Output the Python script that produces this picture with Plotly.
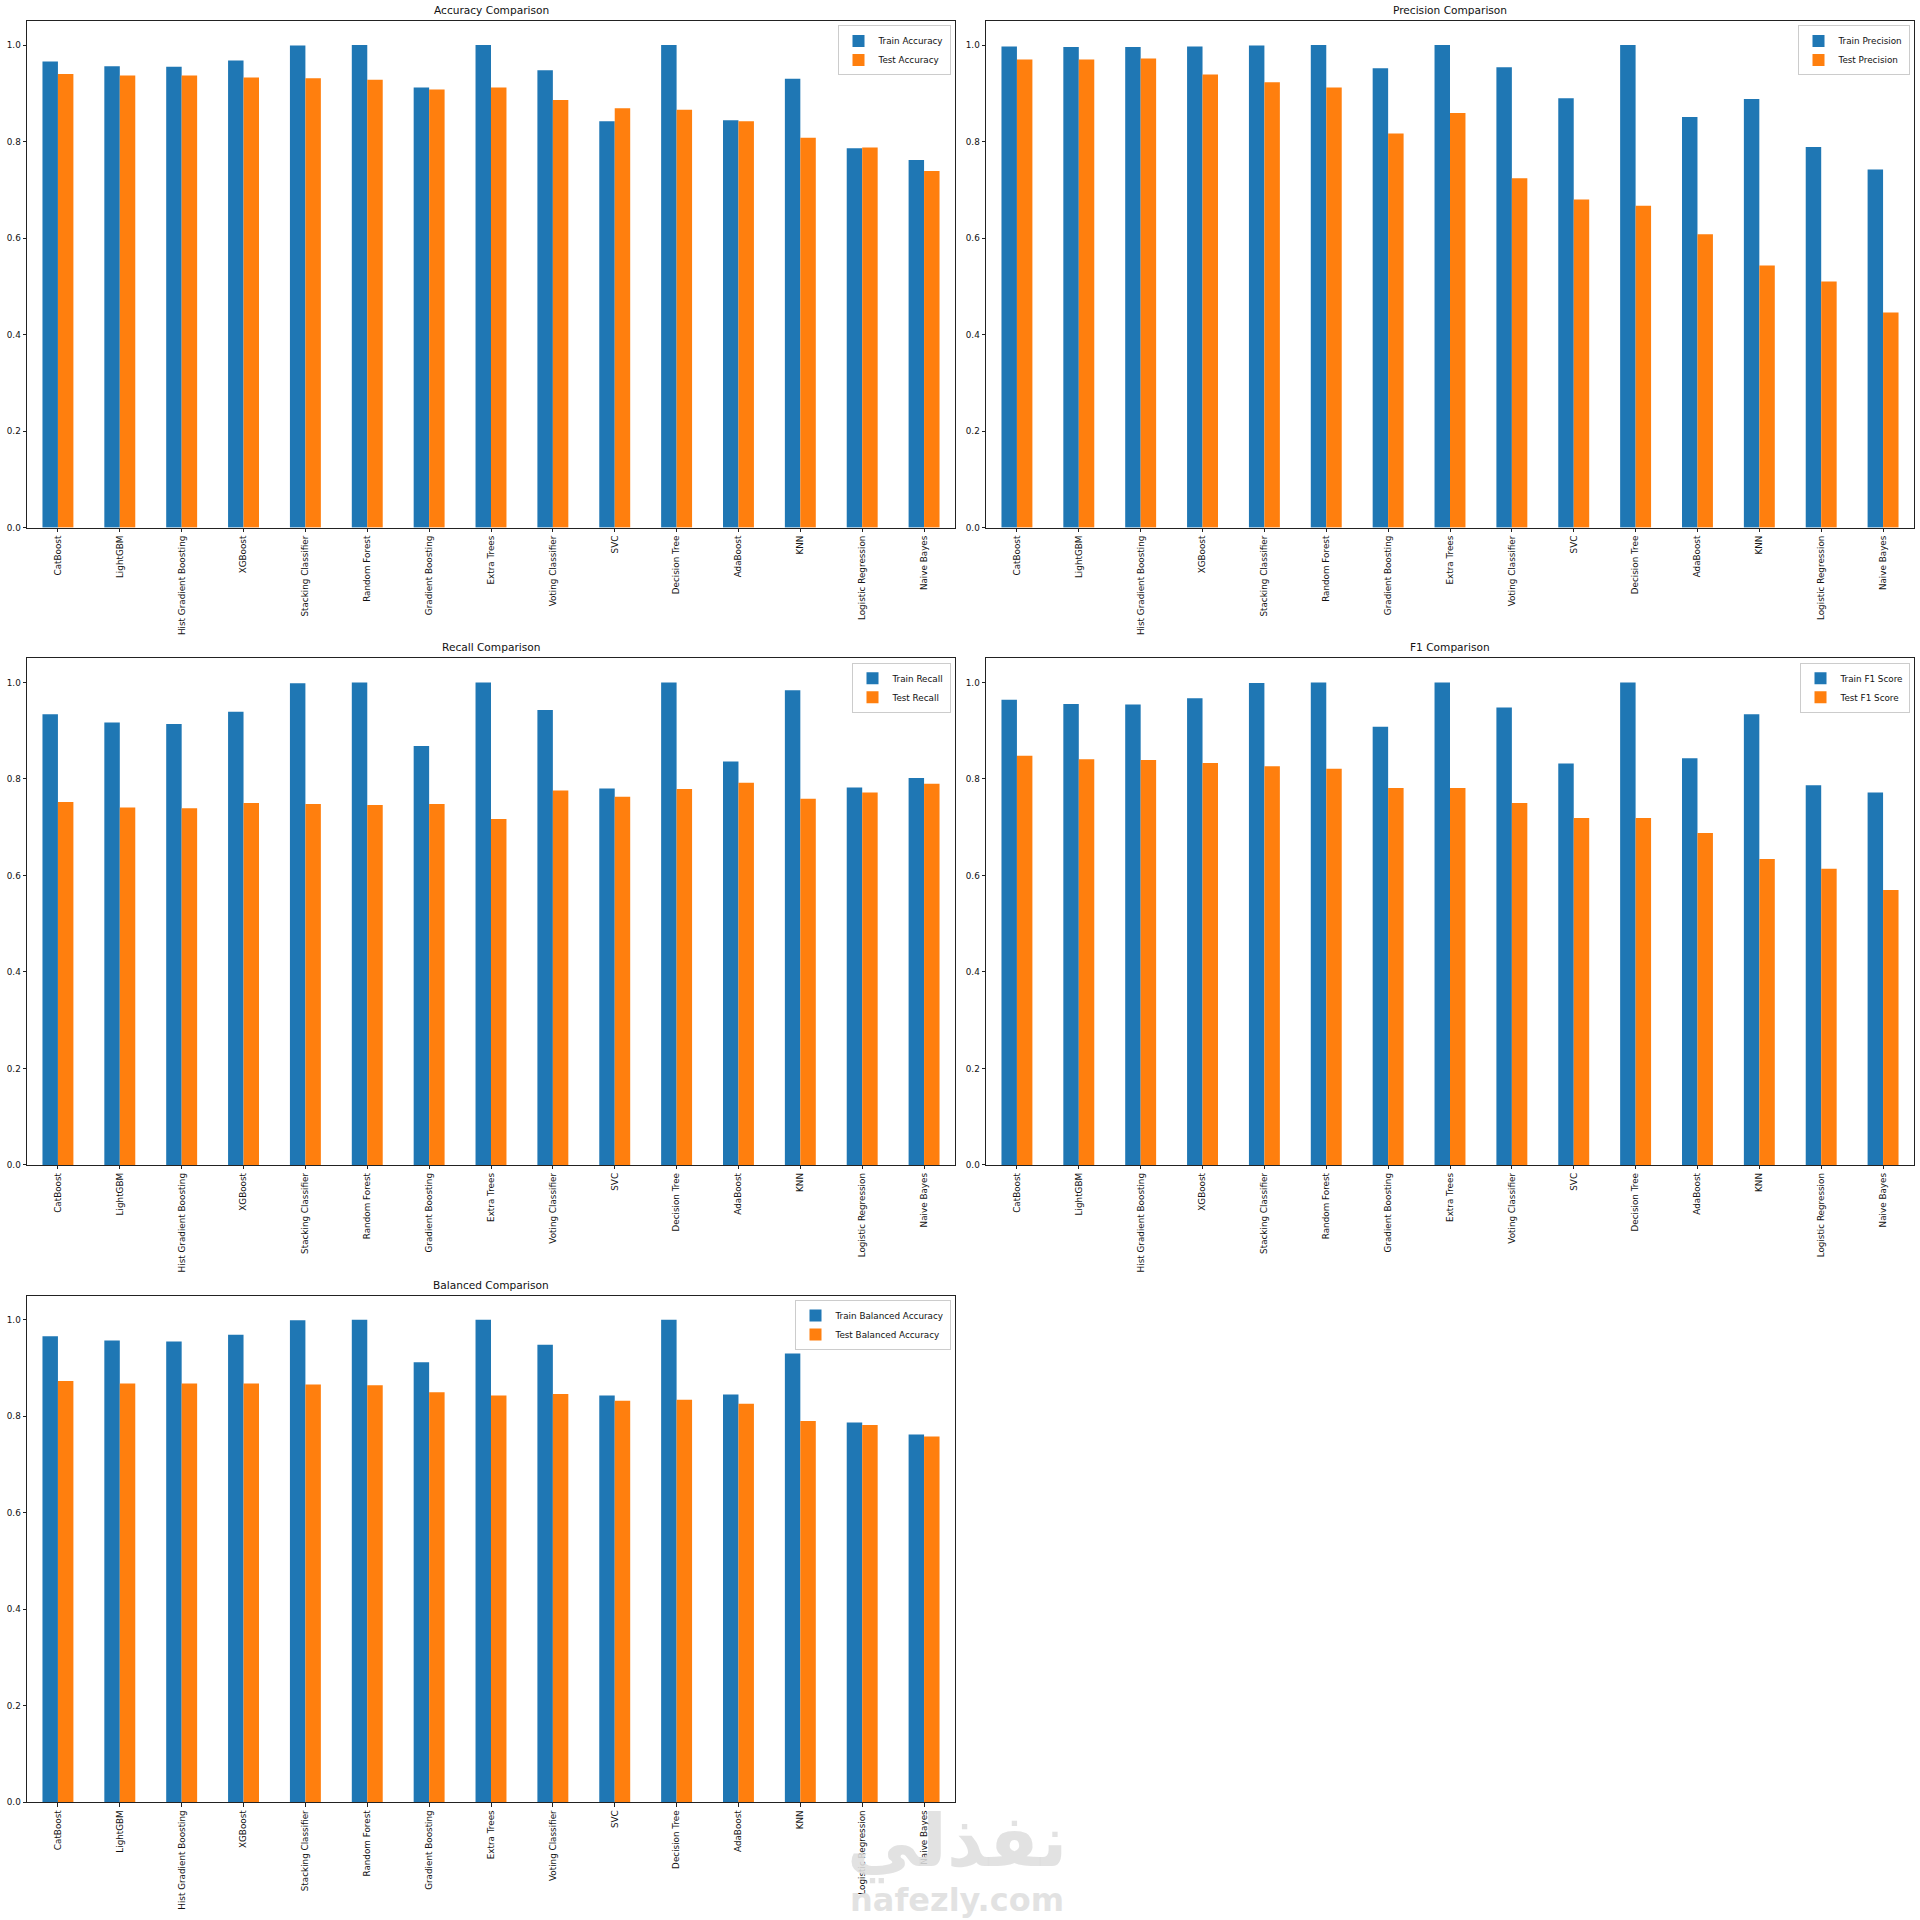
import plotly.graph_objects as go

models = [
    "CatBoost", "LightGBM", "Hist Gradient Boosting", "XGBoost",
    "Stacking Classifier", "Random Forest", "Gradient Boosting", "Extra Trees",
    "Voting Classifier", "SVC", "Decision Tree", "AdaBoost", "KNN",
    "Logistic Regression", "Naive Bayes",
]

train_accuracy = [0.966, 0.956, 0.955, 0.968, 0.999, 1.0, 0.912, 1.0, 0.948, 0.842, 1.0, 0.844, 0.930, 0.786, 0.762]
test_accuracy = [0.940, 0.937, 0.937, 0.933, 0.931, 0.928, 0.908, 0.912, 0.886, 0.869, 0.866, 0.842, 0.808, 0.788, 0.739]

train_precision = [0.997, 0.996, 0.996, 0.997, 0.999, 1.0, 0.952, 1.0, 0.954, 0.890, 1.0, 0.851, 0.888, 0.789, 0.742]
test_precision = [0.970, 0.970, 0.972, 0.939, 0.923, 0.912, 0.817, 0.859, 0.724, 0.680, 0.667, 0.608, 0.543, 0.510, 0.446]

train_recall = [0.934, 0.917, 0.914, 0.939, 0.998, 1.0, 0.868, 1.0, 0.943, 0.780, 1.0, 0.836, 0.984, 0.782, 0.802]
test_recall = [0.752, 0.741, 0.739, 0.750, 0.748, 0.746, 0.748, 0.717, 0.776, 0.763, 0.779, 0.792, 0.759, 0.772, 0.790]

train_f1 = [0.964, 0.955, 0.954, 0.967, 0.999, 1.0, 0.908, 1.0, 0.948, 0.832, 1.0, 0.843, 0.934, 0.787, 0.772]
test_f1 = [0.848, 0.841, 0.839, 0.833, 0.826, 0.821, 0.781, 0.781, 0.750, 0.719, 0.719, 0.688, 0.634, 0.614, 0.570]

train_balanced = [0.966, 0.957, 0.955, 0.969, 0.999, 1.0, 0.912, 1.0, 0.948, 0.843, 1.0, 0.845, 0.930, 0.787, 0.762]
test_balanced = [0.873, 0.868, 0.868, 0.868, 0.866, 0.864, 0.850, 0.843, 0.846, 0.832, 0.834, 0.826, 0.790, 0.782, 0.758]

panels = [
    ("Accuracy Comparison", "Train Accuracy", "Test Accuracy", train_accuracy, test_accuracy),
    ("Precision Comparison", "Train Precision", "Test Precision", train_precision, test_precision),
    ("Recall Comparison", "Train Recall", "Test Recall", train_recall, test_recall),
    ("F1 Comparison", "Train F1 Score", "Test F1 Score", train_f1, test_f1),
    ("Balanced Comparison", "Train Balanced Accuracy", "Test Balanced Accuracy", train_balanced, test_balanced),
]

W = H = 1920
# pixel boxes of the axes (left, right, top, bottom)
cols = [(27, 955), (986, 1914)]
rows = [(21, 529), (660, 1168), (1299, 1807)]

BLUE = "#1f77b4"
ORANGE = "#ff7f0e"
FONT = "DejaVu Sans"


def px_x(p):
    return p / W


def px_y(p):
    return 1 - p / H


fig = go.Figure()
annotations = []

for i, (title, train_name, test_name, train_vals, test_vals) in enumerate(panels):
    r, c = divmod(i, 2)
    x0, x1 = cols[c]
    y0, y1 = rows[r]
    n = "" if i == 0 else str(i + 1)
    leg = "legend" + n

    fig.add_trace(go.Bar(x=models, y=train_vals, name=train_name, marker_color=BLUE,
                         marker_line_width=0, xaxis="x" + n, yaxis="y" + n, legend=leg))
    fig.add_trace(go.Bar(x=models, y=test_vals, name=test_name, marker_color=ORANGE,
                         marker_line_width=0, xaxis="x" + n, yaxis="y" + n, legend=leg))

    axis_common = dict(showline=True, mirror=True, linecolor="#222", linewidth=1,
                       ticks="outside", ticklen=3.5, tickcolor="#222", showgrid=False,
                       zeroline=False, tickfont=dict(family=FONT, size=8.8, color="#111"))
    fig.layout["xaxis" + n] = dict(domain=[px_x(x0), px_x(x1)], anchor="y" + n,
                                   tickangle=-90, range=[-0.5, 14.5], **axis_common)
    fig.layout["yaxis" + n] = dict(domain=[px_y(y1), px_y(y0)], anchor="x" + n,
                                   range=[0, 1.05], tickvals=[0, 0.2, 0.4, 0.6, 0.8, 1.0],
                                   tickformat=".1f", **axis_common)
    fig.layout[leg] = dict(x=px_x(x1 - 4.5), y=px_y(y0 + 4.5), xanchor="right", yanchor="top",
                           xref="paper", yref="paper", bgcolor="rgba(255,255,255,0.8)",
                           bordercolor="#cccccc", borderwidth=1,
                           font=dict(family=FONT, size=8.8, color="#111"),
                           itemwidth=30, tracegroupgap=0)

    annotations.append(dict(text=title, x=px_x((x0 + x1) / 2), y=px_y(y0 - 3),
                            xref="paper", yref="paper", xanchor="center", yanchor="bottom",
                            showarrow=False, font=dict(family=FONT, size=10.6, color="#111")))

# watermark
annotations.append(dict(text="<b>نفذلي</b>", x=px_x(957), y=px_y(1891), xref="paper", yref="paper",
                        showarrow=False, font=dict(family=FONT, size=72, color="rgba(222,222,222,0.88)")))
annotations.append(dict(text="<b>nafezly.com</b>", x=px_x(957), y=px_y(1926), xref="paper", yref="paper",
                        showarrow=False, font=dict(family=FONT, size=32, color="rgba(222,222,222,0.88)")))

fig.update_layout(
    width=W, height=H,
    margin=dict(l=0, r=0, t=0, b=0),
    paper_bgcolor="white", plot_bgcolor="white",
    barmode="group", bargap=0.5, bargroupgap=0,
    annotations=annotations,
)

# drop the browser's default 8px body margin so pixel positions line up
fig.write_html("out.html", config={"displayModeBar": False},
               post_script="document.body.style.margin='0';")
